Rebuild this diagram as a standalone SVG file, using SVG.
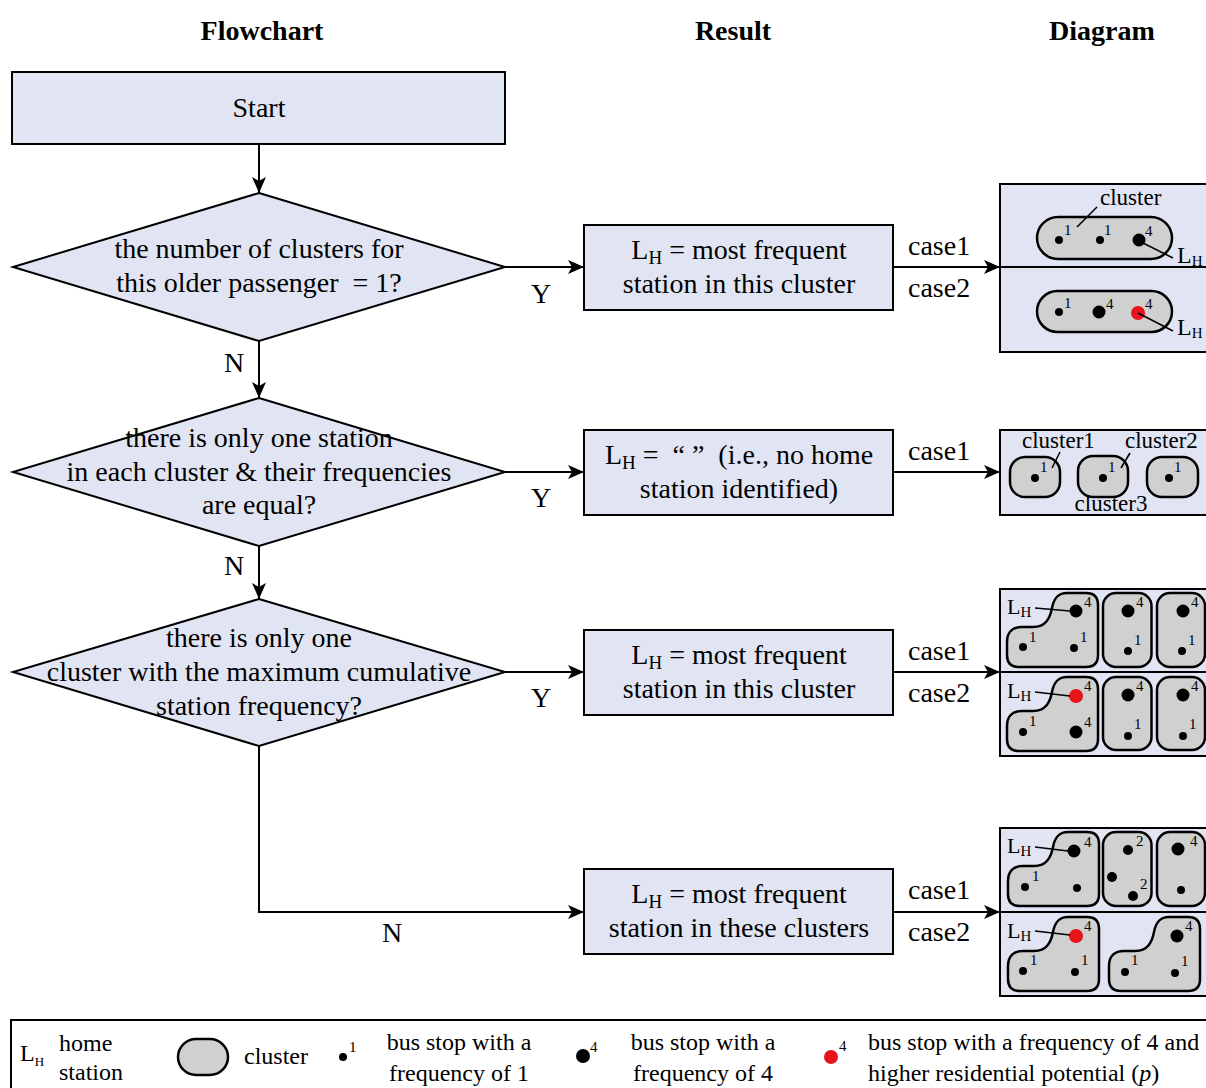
<svg xmlns="http://www.w3.org/2000/svg" width="1206" height="1088" viewBox="0 0 1206 1088">
<defs>
<style>
text{font-family:"Liberation Serif","Times New Roman",serif;fill:#000}
.f{font-size:28px}
.m{text-anchor:middle}
.b{font-weight:bold}
.box{fill:#e1e5f3;stroke:#000;stroke-width:2}
.cl{fill:#d0d0d0;stroke:#000;stroke-width:2.5}
.ln{fill:none;stroke:#000;stroke-width:2}
.thin{fill:none;stroke:#000;stroke-width:1.6}
.dk{fill:#000}
.rd{fill:#e8141b}
.n{font-size:15px}
.ct{font-size:23px}
.lg{font-size:24px}
.pre{white-space:pre}
</style>
<marker id="ah" markerUnits="userSpaceOnUse" markerWidth="16" markerHeight="14" refX="16" refY="7" orient="auto"><path d="M0,0 L16,7 L0,14 L4,7 Z" fill="#000"/></marker>
<path id="blob" d="M0 62 L0 49 C0 39 6 34 15 34 L26 34 C39 34 43 25 45 15 C47 5 51 0 60 0 L79 0 C87 0 91 4 91 12 L91 62 C91 70 87 74 79 74 L12 74 C4 74 0 70 0 62 Z"/>
</defs>

<g id="headers">
<text class="f b m" x="262" y="40">Flowchart</text>
<text class="f b m" x="733" y="40">Result</text>
<text class="f b m" x="1102" y="40">Diagram</text>
</g>

<g id="connectors">
<line class="ln" x1="259" y1="144" x2="259" y2="193" marker-end="url(#ah)"/>
<line class="ln" x1="259" y1="341" x2="259" y2="398" marker-end="url(#ah)"/>
<line class="ln" x1="259" y1="546" x2="259" y2="599" marker-end="url(#ah)"/>
<polyline class="ln" points="259,746 259,912 584,912" marker-end="url(#ah)"/>
<line class="ln" x1="505" y1="267" x2="584" y2="267" marker-end="url(#ah)"/>
<line class="ln" x1="505" y1="472" x2="584" y2="472" marker-end="url(#ah)"/>
<line class="ln" x1="505" y1="672" x2="584" y2="672" marker-end="url(#ah)"/>
<line class="ln" x1="893" y1="267" x2="1000" y2="267" marker-end="url(#ah)"/>
<line class="ln" x1="893" y1="472" x2="1000" y2="472" marker-end="url(#ah)"/>
<line class="ln" x1="893" y1="672" x2="1000" y2="672" marker-end="url(#ah)"/>
<line class="ln" x1="893" y1="912" x2="1000" y2="912" marker-end="url(#ah)"/>
<text class="f m" x="234" y="372">N</text>
<text class="f m" x="234" y="575">N</text>
<text class="f m" x="392" y="942">N</text>
<text class="f m" x="541" y="303">Y</text>
<text class="f m" x="541" y="507">Y</text>
<text class="f m" x="541" y="707">Y</text>
<text class="f" x="908" y="255">case1</text>
<text class="f" x="908" y="297">case2</text>
<text class="f" x="908" y="460">case1</text>
<text class="f" x="908" y="660">case1</text>
<text class="f" x="908" y="702">case2</text>
<text class="f" x="908" y="899">case1</text>
<text class="f" x="908" y="941">case2</text>
</g>

<g id="start">
<rect class="box" x="12" y="72" width="493" height="72"/>
<text class="f m" x="259" y="117">Start</text>
</g>

<g id="decision1">
<polygon class="box" points="259,193 505,267 259,341 13,267"/>
<text class="f m" x="259" y="258">the number of clusters for</text>
<text class="f m pre" x="259" y="292">this older passenger  = 1?</text>
</g>

<g id="decision2">
<polygon class="box" points="259,398 505,472 259,546 13,472"/>
<text class="f m" x="259" y="447">there is only one station</text>
<text class="f m" x="259" y="481">in each cluster &amp; their frequencies</text>
<text class="f m" x="259" y="514">are equal?</text>
</g>

<g id="decision3">
<polygon class="box" points="259,599 505,672 259,746 13,672"/>
<text class="f m" x="259" y="647">there is only one</text>
<text class="f m" x="259" y="681">cluster with the maximum cumulative</text>
<text class="f m" x="259" y="715">station frequency?</text>
</g>

<g id="result1">
<rect class="box" x="584" y="225" width="309" height="85"/>
<text class="f m" x="739" y="259">L<tspan font-size="19" dy="5">H</tspan><tspan dy="-5"> = most frequent</tspan></text>
<text class="f m" x="739" y="293">station in this cluster</text>
</g>

<g id="result2">
<rect class="box" x="584" y="430" width="309" height="85"/>
<text class="f m pre" x="739" y="464">L<tspan font-size="19" dy="5">H</tspan><tspan dy="-5"> =  “ ”  (i.e., no home</tspan></text>
<text class="f m" x="739" y="498">station identified)</text>
</g>

<g id="result3">
<rect class="box" x="584" y="630" width="309" height="85"/>
<text class="f m" x="739" y="664">L<tspan font-size="19" dy="5">H</tspan><tspan dy="-5"> = most frequent</tspan></text>
<text class="f m" x="739" y="698">station in this cluster</text>
</g>

<g id="result4">
<rect class="box" x="584" y="869" width="309" height="85"/>
<text class="f m" x="739" y="903">L<tspan font-size="19" dy="5">H</tspan><tspan dy="-5"> = most frequent</tspan></text>
<text class="f m" x="739" y="937">station in these clusters</text>
</g>

<g id="diagram1">
<rect class="box" x="1000" y="184" width="212" height="168"/>
<line class="ln" x1="1000" y1="267" x2="1206" y2="267"/>
<rect class="cl" x="1037" y="217" width="135" height="42" rx="21"/>
<circle class="dk" cx="1059" cy="240" r="4"/>
<text class="n" x="1064" y="235">1</text>
<circle class="dk" cx="1100" cy="240" r="4"/>
<text class="n" x="1104" y="235">1</text>
<circle class="dk" cx="1139" cy="240" r="6.5"/>
<text class="n" x="1145" y="236">4</text>
<line class="thin" x1="1139" y1="241" x2="1173" y2="258"/>
<text class="ct" x="1100" y="205">cluster</text>
<line class="thin" x1="1097" y1="207" x2="1077" y2="227"/>
<text x="1177" y="263" font-size="24">L<tspan font-size="15" dy="3">H</tspan></text>
<rect class="cl" x="1037" y="291" width="135" height="41" rx="20.5"/>
<circle class="dk" cx="1059" cy="312" r="4"/>
<text class="n" x="1064" y="308">1</text>
<circle class="dk" cx="1099" cy="312" r="6.5"/>
<text class="n" x="1106" y="309">4</text>
<circle class="rd" cx="1138" cy="313" r="7"/>
<text class="n" x="1145" y="309">4</text>
<line class="thin" x1="1138" y1="313" x2="1173" y2="331"/>
<text x="1177" y="335" font-size="24">L<tspan font-size="15" dy="3">H</tspan></text>
</g>

<g id="diagram2">
<rect class="box" x="1000" y="430" width="212" height="85"/>
<rect class="cl" x="1010" y="457" width="50" height="40" rx="15"/>
<circle class="dk" cx="1035" cy="478" r="4"/>
<text class="n" x="1040" y="472">1</text>
<rect class="cl" x="1078" y="456" width="50" height="41" rx="15"/>
<circle class="dk" cx="1103" cy="478" r="4"/>
<text class="n" x="1108" y="472">1</text>
<rect class="cl" x="1147" y="457" width="51" height="40" rx="15"/>
<circle class="dk" cx="1169" cy="478" r="4"/>
<text class="n" x="1174" y="472">1</text>
<text class="ct" x="1022" y="448">cluster1</text>
<line class="thin" x1="1060" y1="452" x2="1052" y2="468"/>
<text class="ct" x="1125" y="448">cluster2</text>
<line class="thin" x1="1130" y1="453" x2="1121" y2="468"/>
<text class="ct m" x="1111" y="511">cluster3</text>
</g>

<g id="diagram3">
<rect class="box" x="1000" y="589" width="212" height="167"/>
<line class="ln" x1="1000" y1="672" x2="1206" y2="672"/>
<use href="#blob" class="cl" transform="translate(1007,593)"/>
<rect class="cl" x="1103" y="593" width="48.5" height="74" rx="13"/>
<rect class="cl" x="1157" y="593" width="48" height="74" rx="13"/>
<circle class="dk" cx="1076" cy="611" r="6.5"/>
<text class="n" x="1084" y="607">4</text>
<circle class="dk" cx="1023" cy="647" r="4"/>
<text class="n" x="1029" y="642">1</text>
<circle class="dk" cx="1074" cy="648" r="4"/>
<text class="n" x="1080" y="642">1</text>
<text x="1007" y="614" font-size="22">L<tspan font-size="15" dy="3">H</tspan></text>
<line class="thin" x1="1035" y1="608" x2="1070" y2="611"/>
<circle class="dk" cx="1128" cy="611" r="6.5"/>
<text class="n" x="1136" y="607">4</text>
<circle class="dk" cx="1128" cy="651" r="4"/>
<text class="n" x="1134" y="645">1</text>
<circle class="dk" cx="1183" cy="611" r="6.5"/>
<text class="n" x="1191" y="607">4</text>
<circle class="dk" cx="1182" cy="651" r="4"/>
<text class="n" x="1188" y="645">1</text>
<use href="#blob" class="cl" transform="translate(1007,677)"/>
<rect class="cl" x="1103" y="677" width="48.5" height="73" rx="13"/>
<rect class="cl" x="1157" y="677" width="48" height="73" rx="13"/>
<circle class="rd" cx="1076" cy="696" r="7"/>
<text class="n" x="1084" y="691">4</text>
<circle class="dk" cx="1023" cy="732" r="4"/>
<text class="n" x="1029" y="726">1</text>
<circle class="dk" cx="1076" cy="732" r="6.5"/>
<text class="n" x="1084" y="727">4</text>
<text x="1007" y="698" font-size="22">L<tspan font-size="15" dy="3">H</tspan></text>
<line class="thin" x1="1035" y1="692" x2="1070" y2="696"/>
<circle class="dk" cx="1128" cy="695" r="6.5"/>
<text class="n" x="1136" y="691">4</text>
<circle class="dk" cx="1128" cy="736" r="4"/>
<text class="n" x="1134" y="729">1</text>
<circle class="dk" cx="1183" cy="695" r="6.5"/>
<text class="n" x="1191" y="691">4</text>
<circle class="dk" cx="1183" cy="736" r="4"/>
<text class="n" x="1189" y="729">1</text>
</g>

<g id="diagram4">
<rect class="box" x="1000" y="828" width="212" height="168"/>
<line class="ln" x1="1000" y1="912" x2="1206" y2="912"/>
<use href="#blob" class="cl" transform="translate(1008,832)"/>
<rect class="cl" x="1103" y="832" width="48.5" height="74" rx="13"/>
<rect class="cl" x="1157" y="832" width="48" height="74" rx="13"/>
<circle class="dk" cx="1074" cy="851" r="6.5"/>
<text class="n" x="1084" y="847">4</text>
<circle class="dk" cx="1025" cy="887" r="4"/>
<text class="n" x="1032" y="881">1</text>
<circle class="dk" cx="1077" cy="888" r="4"/>
<text x="1007" y="853" font-size="22">L<tspan font-size="15" dy="3">H</tspan></text>
<line class="thin" x1="1035" y1="847" x2="1068" y2="851"/>
<circle class="dk" cx="1128" cy="850" r="5"/>
<text class="n" x="1136" y="846">2</text>
<circle class="dk" cx="1112" cy="877" r="5"/>
<circle class="dk" cx="1133" cy="896" r="5"/>
<text class="n" x="1140" y="889">2</text>
<circle class="dk" cx="1178" cy="849" r="6.5"/>
<text class="n" x="1190" y="846">4</text>
<circle class="dk" cx="1181" cy="890" r="4"/>
<use href="#blob" class="cl" transform="translate(1008,917)"/>
<use href="#blob" class="cl" transform="translate(1109,917)"/>
<circle class="rd" cx="1076" cy="936" r="7"/>
<text class="n" x="1084" y="931">4</text>
<circle class="dk" cx="1023" cy="971" r="4"/>
<text class="n" x="1030" y="965">1</text>
<circle class="dk" cx="1075" cy="972" r="4"/>
<text class="n" x="1081" y="965">1</text>
<text x="1007" y="938" font-size="22">L<tspan font-size="15" dy="3">H</tspan></text>
<line class="thin" x1="1035" y1="931" x2="1070" y2="935"/>
<circle class="dk" cx="1177" cy="936" r="6.5"/>
<text class="n" x="1185" y="931">4</text>
<circle class="dk" cx="1125" cy="972" r="4"/>
<text class="n" x="1131" y="965">1</text>
<circle class="dk" cx="1175" cy="973" r="4"/>
<text class="n" x="1181" y="966">1</text>
</g>

<g id="legend">
<rect x="11" y="1020" width="1205" height="80" fill="#fff" stroke="#000" stroke-width="2"/>
<text x="20" y="1061" font-size="24">L<tspan font-size="13" dy="5">H</tspan></text>
<text class="lg" x="59" y="1051">home</text>
<text class="lg" x="59" y="1080">station</text>
<rect class="cl" x="178" y="1039" width="50" height="36" rx="18"/>
<text class="lg" x="244" y="1064">cluster</text>
<circle class="dk" cx="343" cy="1057" r="4"/>
<text class="n" x="349" y="1052">1</text>
<text class="lg m" x="459" y="1050">bus stop with a</text>
<text class="lg m" x="459" y="1081">frequency of 1</text>
<circle class="dk" cx="583" cy="1056" r="7"/>
<text class="n" x="590" y="1052">4</text>
<text class="lg m" x="703" y="1050">bus stop with a</text>
<text class="lg m" x="703" y="1081">frequency of 4</text>
<circle class="rd" cx="831" cy="1057" r="7"/>
<text class="n" x="839" y="1051">4</text>
<text class="lg" x="868" y="1050">bus stop with a frequency of 4 and</text>
<text class="lg" x="868" y="1081">higher residential potential (<tspan font-style="italic">p</tspan>)</text>
</g>
</svg>
